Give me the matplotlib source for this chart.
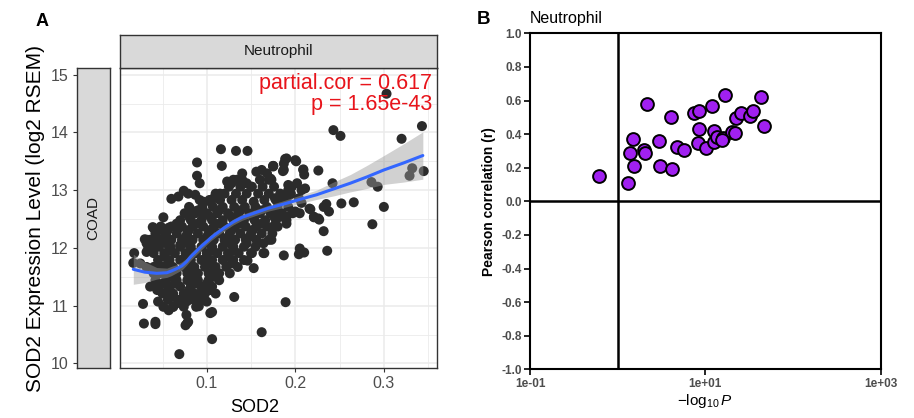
import numpy as np
import matplotlib
matplotlib.use('Agg')
import matplotlib.pyplot as plt

plt.rcParams['font.family'] = ['Liberation Sans', 'DejaVu Sans']
plt.rcParams['mathtext.fontset'] = 'custom'
plt.rcParams['mathtext.rm'] = 'Liberation Sans'
plt.rcParams['mathtext.it'] = 'Liberation Sans:italic'

# panel A data: SOD2 purity-adjusted score vs expression
pts = [
    # sparse / outlying points
    (0.303, 14.67), (0.343, 14.11), (0.243, 14.04), (0.251, 13.94), (0.320, 13.89),
    (0.345, 13.33), (0.329, 13.25), (0.332, 13.38), (0.286, 13.14), (0.293, 13.06),
    (0.300, 12.71), (0.287, 12.41), (0.266, 12.79), (0.252, 12.77), (0.242, 13.12),
    (0.235, 12.76), (0.238, 12.63), (0.232, 12.29), (0.236, 11.95), (0.226, 13.34),
    (0.217, 12.67), (0.221, 12.53), (0.227, 12.49), (0.209, 13.36), (0.210, 13.27),
    (0.201, 13.50), (0.190, 13.55), (0.187, 13.46), (0.186, 13.33), (0.175, 13.42),
    (0.205, 11.99), (0.210, 11.92), (0.204, 11.89), (0.187, 11.87), (0.189, 11.06),
    (0.162, 10.54), (0.131, 11.15), (0.106, 10.42), (0.069, 10.16), (0.104, 10.87),
    (0.100, 11.07), (0.091, 10.99), (0.077, 10.84), (0.078, 10.70), (0.076, 10.66),
    (0.042, 10.72), (0.042, 10.68), (0.029, 10.69), (0.028, 11.03), (0.018, 11.91),
    (0.017, 11.74), (0.060, 12.85), (0.051, 12.53), (0.089, 13.48), (0.089, 13.25),
    (0.092, 13.12), (0.116, 13.71), (0.133, 13.68), (0.146, 13.68), (0.117, 13.42),
    (0.153, 12.80), (0.165, 11.91), (0.153, 11.65), (0.146, 11.78), (0.074, 12.99),
    (0.068, 12.89), (0.039, 12.36), (0.030, 12.15), (0.034, 12.01), (0.032, 11.93),
    # upper-middle
    (0.1885, 13.54), (0.200, 13.52), (0.187, 13.35), (0.209, 13.35), (0.175, 13.42),
    (0.172, 13.20), (0.192, 13.09), (0.196, 13.06), (0.202, 13.12), (0.207, 13.00),
    (0.211, 13.03), (0.192, 13.00), (0.194, 12.92), (0.177, 12.86), (0.183, 12.83),
    (0.189, 12.92), (0.204, 12.86), (0.207, 12.78), (0.216, 12.68), (0.177, 12.63),
    (0.183, 12.54), (0.190, 12.54), (0.200, 12.63), (0.205, 12.60), (0.221, 12.54),
    (0.226, 12.51), (0.232, 12.71), (0.175, 12.37), (0.190, 12.42), (0.173, 12.14),
    (0.079, 12.94), (0.087, 12.92), (0.096, 12.80), (0.104, 12.80), (0.108, 12.86),
    (0.115, 12.94), (0.081, 12.68), (0.087, 12.63), (0.094, 12.63), (0.123, 13.15),
    (0.128, 13.12), (0.134, 13.18), (0.140, 13.29), (0.145, 13.12), (0.151, 13.06),
    (0.156, 13.32), (0.162, 13.35), (0.168, 13.29), (0.175, 13.41), (0.173, 13.18),
    (0.040, 12.34), (0.049, 12.32), (0.057, 12.35), (0.068, 12.34), (0.033, 12.14),
    (0.044, 12.11), (0.055, 12.17), (0.059, 12.02), (0.070, 12.05),
    # lower-left
    (0.032, 12.08), (0.040, 12.02), (0.025, 11.73), (0.032, 11.67), (0.040, 11.67),
    (0.047, 11.56), (0.036, 11.33), (0.044, 11.27), (0.051, 11.39), (0.045, 11.07),
    (0.051, 10.98), (0.057, 10.92), (0.062, 10.98), (0.070, 11.04), (0.077, 11.07),
    (0.085, 11.13), (0.092, 11.21), (0.106, 10.89), (0.079, 10.72), (0.145, 12.08),
    (0.151, 11.91), (0.164, 11.91), (0.164, 12.08), (0.089, 11.04), (0.096, 11.15),
    # dense core
    (0.130, 13.18), (0.140, 13.18), (0.160, 13.18), (0.170, 13.18),
    (0.125, 13.06), (0.138, 13.06), (0.150, 13.06), (0.163, 13.06), (0.176, 13.06),
    (0.110, 12.94), (0.120, 12.94), (0.133, 12.94), (0.145, 12.94), (0.158, 12.94),
    (0.170, 12.94), (0.183, 12.94), (0.195, 12.94),
    (0.092, 12.83), (0.103, 12.83), (0.115, 12.83), (0.128, 12.83), (0.140, 12.83),
    (0.165, 12.83), (0.178, 12.83), (0.190, 12.83),
    (0.080, 12.71), (0.095, 12.71), (0.107, 12.71), (0.118, 12.71), (0.131, 12.71),
    (0.143, 12.71), (0.155, 12.71), (0.168, 12.71), (0.180, 12.71), (0.192, 12.71),
    (0.075, 12.60), (0.087, 12.60), (0.100, 12.60), (0.112, 12.60), (0.124, 12.60),
    (0.136, 12.60), (0.148, 12.60), (0.160, 12.60), (0.172, 12.60), (0.185, 12.60),
    (0.197, 12.60),
    (0.070, 12.48), (0.082, 12.48), (0.094, 12.48), (0.106, 12.48), (0.118, 12.48),
    (0.130, 12.48), (0.142, 12.48), (0.154, 12.48), (0.166, 12.48), (0.178, 12.48),
    (0.190, 12.48),
    (0.048, 12.37), (0.060, 12.37), (0.072, 12.37), (0.084, 12.37), (0.096, 12.37),
    (0.108, 12.37), (0.120, 12.37), (0.132, 12.37), (0.144, 12.37), (0.156, 12.37),
    (0.168, 12.37), (0.180, 12.37),
    (0.042, 12.25), (0.054, 12.25), (0.066, 12.25), (0.078, 12.25), (0.090, 12.25),
    (0.102, 12.25), (0.114, 12.25), (0.126, 12.25), (0.138, 12.25), (0.150, 12.25),
    (0.162, 12.25), (0.174, 12.25),
    (0.036, 12.14), (0.048, 12.14), (0.060, 12.14), (0.072, 12.14), (0.084, 12.14),
    (0.096, 12.14), (0.108, 12.14), (0.120, 12.14), (0.132, 12.14), (0.144, 12.14),
    (0.156, 12.14), (0.170, 12.14),
    (0.046, 12.02), (0.058, 12.02), (0.070, 12.02), (0.082, 12.02), (0.094, 12.02),
    (0.106, 12.02), (0.118, 12.02), (0.130, 12.02), (0.142, 12.02), (0.155, 12.02),
    (0.040, 11.91), (0.052, 11.91), (0.064, 11.91), (0.076, 11.91), (0.088, 11.91),
    (0.100, 11.91), (0.112, 11.91), (0.124, 11.91), (0.136, 11.91), (0.150, 11.91),
    (0.045, 11.79), (0.058, 11.79), (0.070, 11.79), (0.082, 11.79), (0.094, 11.79),
    (0.106, 11.79), (0.118, 11.79), (0.130, 11.79), (0.142, 11.79),
    (0.050, 11.67), (0.062, 11.67), (0.074, 11.67), (0.086, 11.67), (0.098, 11.67),
    (0.110, 11.67), (0.122, 11.67), (0.135, 11.67),
    (0.040, 11.56), (0.055, 11.56), (0.066, 11.56), (0.078, 11.56), (0.090, 11.56),
    (0.102, 11.56), (0.114, 11.56), (0.126, 11.56),
    (0.042, 11.44), (0.054, 11.44), (0.066, 11.44), (0.078, 11.44), (0.090, 11.44),
    (0.102, 11.44), (0.114, 11.44),
    (0.046, 11.33), (0.058, 11.33), (0.070, 11.33), (0.082, 11.33), (0.094, 11.33),
    (0.106, 11.33),
    (0.050, 11.21), (0.062, 11.21), (0.074, 11.21), (0.086, 11.21), (0.098, 11.21),
    (0.110, 11.21),
    (0.056, 11.10), (0.068, 11.10), (0.080, 11.10), (0.092, 11.10),
    (0.062, 10.98), (0.074, 10.98), (0.088, 10.98),
    # in-between points of the dense core
    (0.090, 12.65), (0.114, 12.65), (0.138, 12.65), (0.162, 12.65),
    (0.080, 12.54), (0.104, 12.54), (0.128, 12.54), (0.152, 12.54), (0.176, 12.54),
    (0.066, 12.42), (0.090, 12.42), (0.114, 12.42), (0.138, 12.42), (0.162, 12.42),
    (0.056, 12.31), (0.080, 12.31), (0.104, 12.31), (0.128, 12.31), (0.152, 12.31),
    (0.052, 12.19), (0.076, 12.19), (0.100, 12.19), (0.124, 12.19), (0.148, 12.19),
    (0.054, 12.08), (0.078, 12.08), (0.102, 12.08), (0.126, 12.08),
    (0.058, 11.96), (0.082, 11.96), (0.106, 11.96), (0.130, 11.96),
    (0.052, 11.85), (0.076, 11.85), (0.100, 11.85), (0.124, 11.85),
    (0.056, 11.73), (0.080, 11.73), (0.104, 11.73), (0.128, 11.73),
    (0.060, 11.62), (0.084, 11.62), (0.108, 11.62),
    (0.060, 11.50), (0.084, 11.50), (0.108, 11.50),
    (0.064, 11.38), (0.088, 11.38), (0.100, 11.38),
    (0.056, 11.27), (0.080, 11.27), (0.104, 11.27),
    (0.062, 11.15), (0.086, 11.15),
]
sod2 = [p[0] for p in pts]
expr = [p[1] for p in pts]

# loess fit and its confidence half-width
fit_x = [0.017, 0.030, 0.0435, 0.055, 0.060, 0.066, 0.072, 0.077, 0.082, 0.0887,
         0.094, 0.100, 0.105, 0.111, 0.120, 0.130, 0.140, 0.153, 0.170, 0.187,
         0.205, 0.224, 0.243, 0.262, 0.281, 0.300, 0.322, 0.344]
fit_y = [11.63, 11.58, 11.56, 11.57, 11.60, 11.64, 11.69, 11.76, 11.85, 11.95,
         12.03, 12.11, 12.18, 12.25, 12.35, 12.45, 12.53, 12.60, 12.69, 12.76,
         12.84, 12.92, 13.02, 13.12, 13.23, 13.35, 13.47, 13.60]
fit_se = [0.26, 0.18, 0.10, 0.08, 0.08, 0.07, 0.07, 0.06, 0.06, 0.06,
          0.06, 0.05, 0.05, 0.05, 0.05, 0.05, 0.05, 0.05, 0.05, 0.06,
          0.07, 0.08, 0.12, 0.15, 0.20, 0.25, 0.33, 0.41]

# panel B data: -log10 P vs Pearson r
neg_log_p = [0.62, 1.30, 1.38, 1.51, 1.52, 1.98, 2.07, 2.18, 2.99, 3.04,
             4.09, 4.20, 4.71, 5.76, 7.43, 8.55, 8.18, 8.47, 10.2, 12.0,
             12.6, 12.7, 13.5, 16.0, 16.8, 20.3, 22.0, 22.6, 25.3, 32.4,
             34.7, 43.2, 47.1, 15.3]
pearson_r = [0.153, 0.111, 0.290, 0.371, 0.210, 0.306, 0.288, 0.577, 0.357, 0.210,
             0.504, 0.190, 0.325, 0.306, 0.524, 0.538, 0.345, 0.431, 0.319, 0.567,
             0.419, 0.355, 0.385, 0.375, 0.633, 0.415, 0.405, 0.494, 0.528, 0.510,
             0.538, 0.623, 0.450, 0.365]

W, H = 914, 418
fig = plt.figure(figsize=(W / 100, H / 100), dpi=100)

def rect(x0, y0, x1, y1):
    # pixel box -> figure fraction
    return [x0 / W, 1 - y1 / H, (x1 - x0) / W, (y1 - y0) / H]

# ---------------- panel A ----------------
ax = fig.add_axes(rect(120, 68, 437, 368))
ylim = (9.92, 15.116)
ax.set_xlim(0.002, 0.36)
ax.set_ylim(*ylim)
ax.set_xticks([0.1, 0.2, 0.3])
ax.set_xticks([0.05, 0.15, 0.25, 0.35], minor=True)
ax.set_yticks([10, 11, 12, 13, 14, 15])
ax.set_yticks([10.5, 11.5, 12.5, 13.5, 14.5], minor=True)
ax.grid(True, which='major', color='#EBEBEB', lw=1.1)
ax.grid(True, which='minor', color='#EBEBEB', lw=0.6)
ax.set_axisbelow(True)
ax.tick_params(axis='y', which='both', left=False, labelleft=False)
ax.tick_params(axis='x', which='minor', bottom=False)
ax.tick_params(axis='x', which='major', length=3, color='#333333', labelsize=11.5,
               labelcolor='#4D4D4D', pad=3)
for s in ax.spines.values():
    s.set_color('#333333')
    s.set_linewidth(1.0)

ax.scatter(sod2, expr, s=52, color='#2b2b2b', edgecolors='none', zorder=2)
ax.fill_between(fit_x, np.array(fit_y) - np.array(fit_se), np.array(fit_y) + np.array(fit_se),
                color='#999999', alpha=0.45, lw=0, zorder=3)
ax.plot(fit_x, fit_y, color='#3366FF', lw=2.2, zorder=4, solid_capstyle='round')

ax.text(0.3546, 14.84, 'partial.cor = 0.617', color='#E8141B', fontsize=15.5,
        ha='right', va='center', zorder=5)
ax.text(0.3546, 14.49, 'p = 1.65e-43', color='#E8141B', fontsize=15.5,
        ha='right', va='center', zorder=5)

# top strip
st = fig.add_axes(rect(120, 35, 437, 68))
st.set_facecolor('#D9D9D9')
st.set_xticks([])
st.set_yticks([])
for s in st.spines.values():
    s.set_color('#333333')
    s.set_linewidth(1.0)
st.text(0.5, 0.5, 'Neutrophil', ha='center', va='center', fontsize=11, color='#1A1A1A',
        transform=st.transAxes)

# left strip carrying the y axis
ls = fig.add_axes(rect(77, 68, 110, 368))
ls.set_facecolor('#D9D9D9')
ls.set_ylim(*ylim)
ls.set_xticks([])
ls.set_yticks([10, 11, 12, 13, 14, 15])
ls.tick_params(axis='y', length=3, color='#333333', labelsize=11.5, labelcolor='#4D4D4D', pad=3)
for s in ls.spines.values():
    s.set_color('#333333')
    s.set_linewidth(1.0)
ls.text(0.5, 0.5, 'COAD', ha='center', va='center', rotation=90, fontsize=11,
        color='#1A1A1A', transform=ls.transAxes)
ls.set_ylabel('SOD2 Expression Level (log2 RSEM)', fontsize=15, labelpad=4)

fig.text(255 / W, 1 - 408 / H, 'SOD2', ha='center', va='center', fontsize=13)
fig.text(36 / W, 1 - 21 / H, 'A', ha='left', va='center', fontsize=13, fontweight='bold')

# ---------------- panel B ----------------
bx = fig.add_axes(rect(530, 33.3, 880.7, 369.3))
bx.set_xscale('log')
bx.set_xlim(0.1, 1000)
bx.set_ylim(-1.0, 1.0)
bx.axvline(1, color='black', lw=1.8, zorder=1)
bx.axhline(0, color='black', lw=1.8, zorder=1)
bx.scatter(neg_log_p, pearson_r, s=85, color='#A020F0', edgecolors='black',
           linewidths=1.4, zorder=3)
yt = [-1.0, -0.8, -0.6, -0.4, -0.2, 0.0, 0.2, 0.4, 0.6, 0.8, 1.0]
bx.set_yticks(yt)
bx.set_yticklabels([f'{v:.1f}' for v in yt])
bx.set_xticks([0.1, 10, 1000])
bx.set_xticklabels(['1e-01', '1e+01', '1e+03'])
bx.minorticks_off()
bx.tick_params(length=4, width=1.2, labelsize=8.5, labelcolor='#4D4D4D', pad=2)
for lab in bx.get_xticklabels() + bx.get_yticklabels():
    lab.set_fontweight('bold')
for s in bx.spines.values():
    s.set_linewidth(1.5)
bx.set_ylabel('Pearson correlation (r)', fontsize=10, fontweight='bold', labelpad=4)
bx.set_xlabel(r'$-\mathrm{log}_{10}\,P$', fontsize=11, labelpad=2)

fig.text(530 / W, 1 - 18 / H, 'Neutrophil', ha='left', va='center', fontsize=11.5)
fig.text(477 / W, 1 - 20 / H, 'B', ha='left', va='center', fontsize=13.5, fontweight='bold')

fig.savefig('out.png', dpi=100)
